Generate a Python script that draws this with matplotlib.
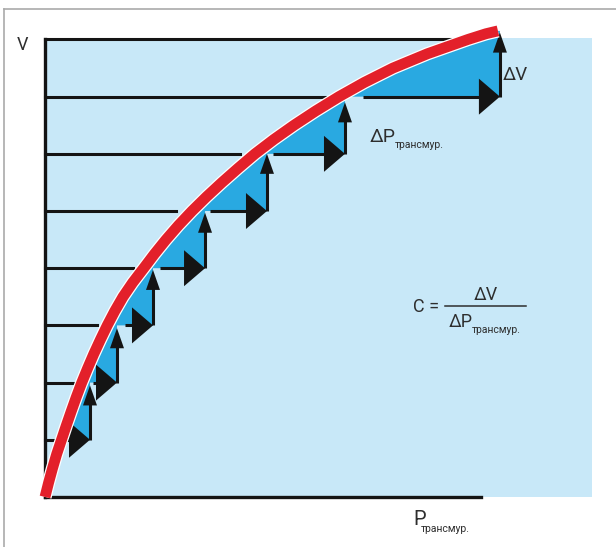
import numpy as np

import matplotlib
matplotlib.use("Agg")
import matplotlib.pyplot as plt
import matplotlib.patheffects as pe
from matplotlib.patches import Polygon, Rectangle

plt.rcParams["font.family"] = ["DejaVu Sans Condensed", "Roboto", "DejaVu Sans"]

# кривая давление–объём (P трансмуральное, V), условные единицы
CURVE_P = [0.0, 0.24, 0.5, 0.78, 1.1, 1.42, 1.75, 2.09, 2.45, 2.84,
           3.25, 3.69, 4.15, 4.65, 5.2, 5.85, 6.58, 7.3, 8.07, 8.9,
           9.8, 10.77, 11.8, 12.88, 14.0, 15.25, 16.6, 18.05, 19.6, 21.3,
           23.2, 25.5, 28.2, 29.4, 30.2]
CURVE_V = [0.0, 0.25, 0.5, 0.75, 1.0, 1.25, 1.5, 1.75, 2.0, 2.25,
           2.5, 2.75, 3.0, 3.25, 3.5, 3.75, 4.0, 4.25, 4.5, 4.75,
           5.0, 5.25, 5.5, 5.75, 6.0, 6.25, 6.5, 6.75, 7.0, 7.25,
           7.5, 7.75, 8.0, 8.1, 8.15]

# горизонтальные уровни объёма от оси до кривой
LEVEL_V = [1, 2, 3, 4, 5, 6, 7, 8]
LEVEL_END_P = [1.5, 2.3, 3.5, 5.9, 8.75, 13.0, 18.7, 28.3]

# ступеньки: шаг по давлению (вправо) и по объёму (вверх)
STEP_V = [1, 2, 3, 4, 5, 6, 7]
STEP_START_P = [1.1, 3.2, 5.33, 7.67, 11.0, 15.2, 21.2]
STEP_END_P = [3.0, 4.8, 7.2, 10.67, 14.8, 20.0, 30.33]
STEP_TOP_V = [1.95, 2.95, 3.97, 4.97, 6.0, 6.9, 8.12]

P_AXIS_END = 29.1
P_MAX = 36.47
V_MAX = 8.02

BG_BLUE = "#c8e8f8"
STEP_BLUE = "#29a9e1"
RED = "#e3202a"
INK = "#141414"
TEXT = "#2e2e2e"

fig = plt.figure(figsize=(6.16, 5.47), dpi=100)
ax = fig.add_axes([0, 0, 1, 1])
ax.set_xlim(-3.0, 38.07)
ax.set_ylim(-0.875, 8.69)
ax.axis("off")

# размеры пикселя в единицах данных (для наконечников стрелок)
x0, y0 = ax.transData.transform((0, 0))
x1, y1 = ax.transData.transform((1, 1))
PX_P = 1.0 / (x1 - x0)
PX_V = 1.0 / (y1 - y0)


def right_arrow(p_from, p_to, v, length=21, half=18):
    L = length * PX_P
    H = half * PX_V
    ax.plot([p_from, p_to - L * 0.5], [v, v], color=INK, lw=2.2,
            solid_capstyle="butt", zorder=3)
    ax.add_patch(Polygon([(p_to, v), (p_to - L, v + H), (p_to - L, v - H)],
                         closed=True, color=INK, lw=0, zorder=3))


def up_arrow(p, v_from, v_to, length=20, half=7):
    L = length * PX_V
    W = half * PX_P
    ax.plot([p, p], [v_from, v_to - L * 0.5], color=INK, lw=2.2,
            solid_capstyle="butt", zorder=3)
    ax.add_patch(Polygon([(p, v_to), (p - W, v_to - L), (p + W, v_to - L)],
                         closed=True, color=INK, lw=0, zorder=3))


# фон
ax.add_patch(Rectangle((0, 0), P_MAX, V_MAX, color=BG_BLUE, lw=0, zorder=0))

# закрашенные треугольники под кривой
curve_p = np.array(CURVE_P)
curve_v = np.array(CURVE_V)
for v, p_end in zip(STEP_V, STEP_END_P):
    p_lo = np.interp(v, curve_v, curve_p)
    v_hi = np.interp(p_end, curve_p, curve_v)
    inner = (curve_p > p_lo) & (curve_p < p_end)
    pts = [(p_lo, v)] + list(zip(curve_p[inner], curve_v[inner]))
    pts += [(p_end, v_hi), (p_end, v)]
    ax.add_patch(Polygon(pts, closed=True, color=STEP_BLUE, lw=0, zorder=1))

# оси и уровни
ax.plot([0, 0], [0, LEVEL_V[-1]], color=INK, lw=2.4, zorder=2,
        solid_capstyle="projecting")
ax.plot([0, P_AXIS_END], [0, 0], color=INK, lw=2.4, zorder=2)
for v, p_end in zip(LEVEL_V, LEVEL_END_P):
    ax.plot([0, p_end], [v, v], color=INK, lw=2.2, zorder=2)

# стрелки ΔP и ΔV
for v, p0, p1, v_top in zip(STEP_V, STEP_START_P, STEP_END_P, STEP_TOP_V):
    right_arrow(p0, p1, v)
    up_arrow(p1, v, v_top)

# сама кривая
ax.plot(CURVE_P, CURVE_V, color=RED, lw=7.8, solid_capstyle="butt",
        solid_joinstyle="round", zorder=4,
        path_effects=[pe.Stroke(linewidth=9.6, foreground="white"), pe.Normal()])

# подписи
ax.text(-1.5, 7.90, "V", fontsize=13, color=TEXT, ha="center", va="center")
ax.text(30.53, 7.29, "ΔV", fontsize=13.5, color=TEXT, ha="left", va="baseline")

ax.text(21.67, 6.21, "ΔP", fontsize=14, color=TEXT, ha="left", va="baseline")
ax.text(23.3, 6.10, "трансмур.", fontsize=7.5, color=TEXT, ha="left", va="baseline")

ax.text(24.53, 3.23, "C =", fontsize=13, color=TEXT, ha="left", va="baseline")
ax.plot([26.67, 32.07], [3.34, 3.34], color=TEXT, lw=1.1)
ax.text(29.4, 3.44, "ΔV", fontsize=13, color=TEXT, ha="center", va="baseline")
ax.text(26.93, 2.97, "ΔP", fontsize=13, color=TEXT, ha="left", va="baseline")
ax.text(28.47, 2.87, "трансмур.", fontsize=7.5, color=TEXT, ha="left", va="baseline")

ax.text(24.53, -0.49, "P", fontsize=14.5, color=TEXT, ha="left", va="baseline")
ax.text(25.07, -0.61, "трансмур.", fontsize=7.5, color=TEXT, ha="left", va="baseline")

# рамка
ax.plot([0.0065, 1.0], [0.9835, 0.9835], color="#aaaaaa", lw=1.2,
        transform=ax.transAxes, zorder=5)
ax.plot([0.0065, 0.0065], [0.0, 0.9835], color="#aaaaaa", lw=1.2,
        transform=ax.transAxes, zorder=5)

fig.savefig("out.png", dpi=100)
plt.close(fig)
